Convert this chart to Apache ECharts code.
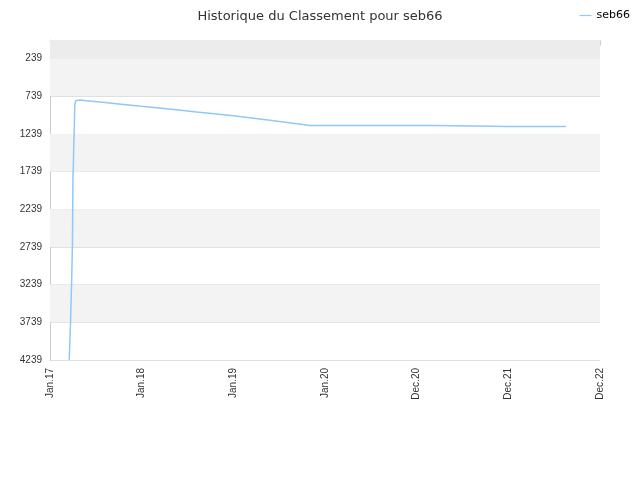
<!DOCTYPE html><html><head><meta charset="utf-8"><script src="https://cdn.jsdelivr.net/npm/echarts@6/dist/echarts.min.js"></script></head><body style="margin:0"><div id="c" style="width:640px;height:480px"></div><script>
var xLabels=['Jan.17','Jan.18','Jan.19','Jan.20','Dec.20','Dec.21','Dec.22'];
var yTicks=[239,739,1239,1739,2239,2739,3239,3739,4239];
var xs=[0.21,0.215,0.22,0.225,0.23,0.235,0.24,0.245,0.25,0.255,0.26,0.265,0.27,0.28,0.3,0.33,0.4,0.6,0.8,1.0,1.3,1.6,2.0,2.4,2.84,3.5,4.0,4.21,4.22,5.0,5.63];
var ranks=[4239,4050,4050,3700,3700,3240,3240,2700,1850,1650,1330,1200,860,800,790,792,800,825,850,875,910,950,1000,1060,1130,1130,1130,1130,1143,1143,1143];
var data=xs.map(function(x,i){return [x,ranks[i]];});
var bands=[[-5,239,'#ececec'],[239,739,'#f3f3f3'],[1239,1739,'#f3f3f3'],[2239,2739,'#f3f3f3'],[3239,3739,'#f3f3f3']];
var c=echarts.init(document.getElementById('c'));
c.setOption({
title:{text:'Historique du Classement pour seb66',left:'center',top:5,textStyle:{fontSize:13,fontWeight:'normal',color:'#333',fontFamily:'DejaVu Sans'}},
legend:{right:5,top:5,data:['seb66'],icon:'path://M0,0H10V1H0Z',itemWidth:12,itemHeight:2,textStyle:{fontSize:11,color:'#000',fontFamily:'DejaVu Sans'}},
grid:{left:50,right:40,top:40,bottom:120},
xAxis:{type:'value',min:0,max:6,interval:1,axisLabel:{rotate:90,fontSize:10,color:'#333',formatter:function(v){return xLabels[v];}},axisLine:{lineStyle:{color:'#ccc'}},axisTick:{lineStyle:{color:'#ccc'}},splitLine:{show:false}},
yAxis:{type:'value',inverse:true,min:-5,max:4239,axisLabel:{customValues:yTicks,fontSize:10,color:'#333',formatter:function(v){return String(v);}},axisTick:{customValues:yTicks,show:false},axisLine:{show:true,lineStyle:{color:'#ccc'}},splitLine:{show:true,lineStyle:{color:'#e0e0e0'}}},
series:[{name:'seb66',type:'line',data:data,symbol:'none',lineStyle:{color:'#90c8f8',width:1.5},itemStyle:{color:'#90c8f8'},
markArea:{silent:true,data:bands.map(function(b){return [{yAxis:b[0],itemStyle:{color:b[2],borderWidth:0}},{yAxis:b[1]}];})}}]
});
</script></body></html>
